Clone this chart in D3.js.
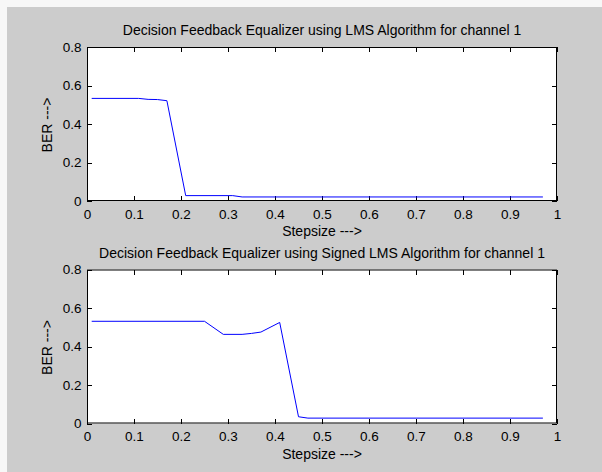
<!DOCTYPE html>
<html>
<head>
<meta charset="utf-8">
<script src="https://cdn.jsdelivr.net/npm/d3@7"></script>
<style>
  html, body { margin: 0; padding: 0; background: #f7f7f7; }
  svg { display: block; }
  text { font-family: "Liberation Sans", Arial, sans-serif; fill: #000; }
</style>
</head>
<body>
<script>
// BER versus step size for the two DFE adaptation rules (channel 1)
const lmsStep = [0.01, 0.11, 0.13, 0.15, 0.17, 0.21, 0.31, 0.33, 0.97];
const lmsBER  = [0.533, 0.533, 0.528, 0.527, 0.521, 0.028, 0.028, 0.021, 0.021];

const signedStep = [0.01, 0.25, 0.29, 0.33, 0.35, 0.37, 0.41, 0.45, 0.47, 0.97];
const signedBER  = [0.531, 0.531, 0.463, 0.463, 0.468, 0.475, 0.525, 0.035, 0.028, 0.028];

const xTicks = [0, 0.1, 0.2, 0.3, 0.4, 0.5, 0.6, 0.7, 0.8, 0.9, 1];
const yTicks = [0, 0.2, 0.4, 0.6, 0.8];

const titles = [
  "Decision Feedback Equalizer using LMS Algorithm for channel 1",
  "Decision Feedback Equalizer using Signed LMS Algorithm for channel 1"
];
const xLabel = "Stepsize --->";
const yLabel = "BER --->";

const W = 602, H = 472;
const svg = d3.select("body").append("svg").attr("width", W).attr("height", H);

// figure background
svg.append("rect").attr("x", 7).attr("y", 7).attr("width", W - 7).attr("height", H - 7)
  .attr("fill", "#cccccc");

const panels = [
  { top: 47, step: lmsStep, ber: lmsBER, title: titles[0] },
  { top: 269.5, step: signedStep, ber: signedBER, title: titles[1] }
];

const left = 87, right = 557, ph = 154;

panels.forEach(p => {
  const x = d3.scaleLinear().domain([0, 1]).range([left, right]);
  const y = d3.scaleLinear().domain([0, 0.8]).range([p.top + ph, p.top]);
  const g = svg.append("g");

  g.append("rect").attr("x", left).attr("y", p.top)
    .attr("width", right - left).attr("height", ph).attr("fill", "#fff");

  const tickFmt = d => String(d);

  const ax = (gen, tx, ty, labels) => {
    const a = g.append("g").attr("transform", `translate(${tx},${ty})`).call(gen);
    a.select(".domain").remove();
    a.selectAll(".tick line").attr("stroke", "#000").attr("shape-rendering", "crispEdges");
    if (!labels) a.selectAll(".tick text").remove();
    else a.selectAll(".tick text").attr("font-size", 13.5).attr("fill", "#000");
    return a;
  };

  ax(d3.axisBottom(x).tickValues(xTicks).tickFormat(tickFmt).tickSizeInner(-5).tickSizeOuter(0).tickPadding(8),
     0, p.top + ph, true);
  ax(d3.axisTop(x).tickValues(xTicks).tickSizeInner(-5).tickSizeOuter(0), 0, p.top, false);
  ax(d3.axisLeft(y).tickValues(yTicks).tickFormat(tickFmt).tickSizeInner(-5).tickSizeOuter(0).tickPadding(5.5),
     left, 0, true);
  ax(d3.axisRight(y).tickValues(yTicks).tickSizeInner(-5).tickSizeOuter(0), right, 0, false);

  const line = d3.line().x((d, i) => x(p.step[i])).y(d => y(d));
  g.append("path").datum(p.ber).attr("d", line)
    .attr("fill", "none").attr("stroke", "#0000ff").attr("stroke-width", 1);

  g.append("rect").attr("x", left + 0.5).attr("y", p.top + 0.5)
    .attr("width", right - left - 1).attr("height", ph - 1)
    .attr("fill", "none").attr("stroke", "#000").attr("stroke-width", 1);

  g.append("text").attr("x", (left + right) / 2).attr("y", p.top - 12)
    .attr("text-anchor", "middle").attr("font-size", 14).text(p.title);

  g.append("text").attr("x", (left + right) / 2).attr("y", p.top + ph + 35)
    .attr("text-anchor", "middle").attr("font-size", 14).text(xLabel);

  g.append("text").attr("transform", `translate(52,${p.top + ph / 2 + 1}) rotate(-90)`)
    .attr("text-anchor", "middle").attr("font-size", 14).text(yLabel);
});
</script>
</body>
</html>
